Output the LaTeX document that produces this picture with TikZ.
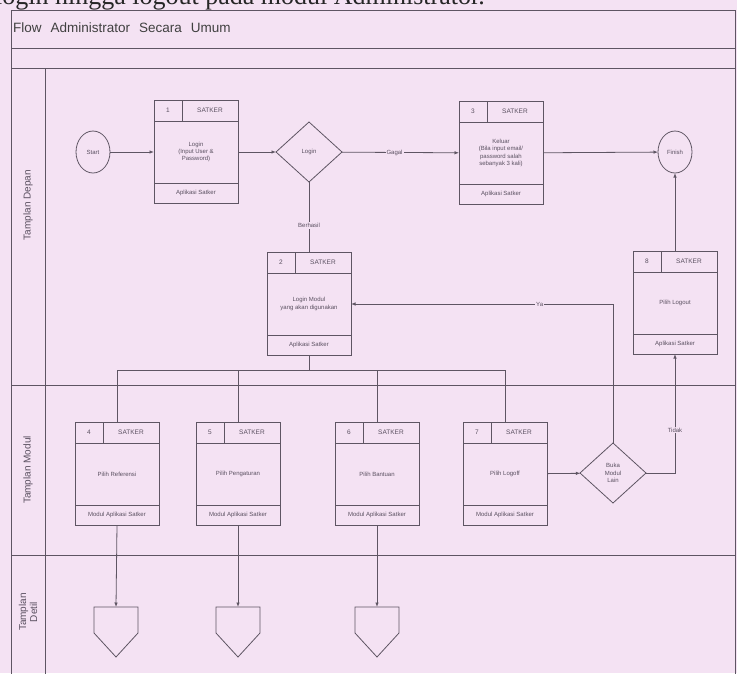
\documentclass[tikz,border=0pt]{standalone}
\usepackage{fontspec}
\setmainfont{Liberation Sans}
\newfontfamily\captionserif{Liberation Serif}
\usetikzlibrary{shapes.geometric,arrows.meta}
\definecolor{paper}{HTML}{F4E2F3}
\definecolor{ink}{HTML}{5E5563}
\definecolor{txt}{HTML}{5A5060}

% one activity card: name, x, y of body centre, number, body text, footer text
\newcommand\card[6]{%
  \node[cardbody] (#1) at (#2,#3) {#5};
  \node[numcell, anchor=south west] (#1n) at (#1.north west) {#4};
  \node[rolecell, anchor=south east] (#1r) at (#1.north east) {SATKER};
  \node[footcell, anchor=north] (#1f) at (#1.south) {#6};
  \coordinate (#1t) at ([yshift=21pt]#1.north);
}

\begin{document}
\begin{tikzpicture}[x=1pt,y=-1pt,
  line/.style={draw=ink, line width=0.8pt},
  flow/.style={line, -{Latex[length=4.5pt,width=3.5pt]}},
  cardbody/.style={draw=ink, line width=0.8pt, minimum width=84pt, minimum height=62pt,
    inner sep=1pt, align=center, font=\fontsize{6}{7.3}\selectfont, text=txt, outer sep=0pt},
  numcell/.style={draw=ink, line width=0.8pt, minimum width=28pt, minimum height=21pt,
    inner sep=0pt, font=\fontsize{6.5}{7}\selectfont, text=txt, outer sep=0pt},
  rolecell/.style={numcell, minimum width=56pt},
  footcell/.style={numcell, minimum width=84pt, minimum height=20pt, font=\fontsize{6}{7}\selectfont},
  terminal/.style={draw=ink, line width=0.8pt, ellipse, minimum width=34pt, minimum height=42pt,
    inner sep=0pt, font=\fontsize{6}{7}\selectfont, text=txt, outer sep=0pt},
  decision/.style={draw=ink, line width=0.8pt, diamond, minimum width=66pt, minimum height=60pt,
    inner sep=0pt, align=center, font=\fontsize{6}{7.3}\selectfont, text=txt, outer sep=0pt},
  lbl/.style={fill=paper, inner sep=1pt, font=\fontsize{6}{7}\selectfont, text=txt},
  lanelbl/.style={rotate=90, align=center, font=\fontsize{10}{11}\selectfont, text=txt},
]
\fill[paper] (0,0) rectangle (737,673);
\clip (0,0) rectangle (737,673);

% running text above the chart (only its lower edge lies on the page)
\node[anchor=base west, inner sep=0pt, font=\captionserif\fontsize{26}{28}\selectfont, text=black!85]
  (caption) at (-5,4) {login hingga logout pada modul Administrator.};

% pool frame, title row and lanes
\draw[line] (11,10) rectangle (735,700);
\draw[line] (11,48) -- (735,48);
\draw[line] (11,68) -- (735,68);
\draw[line] (45,68) -- (45,700);
\draw[line] (11,385) -- (735,385);
\draw[line] (11,555) -- (735,555);
\node[anchor=west, inner sep=0pt, font=\fontsize{13.5}{15}\selectfont, text=black!75]
  (title) at (13,28) {Flow\hspace{9pt}Administrator\hspace{9pt}Secara\hspace{9pt}Umum};
\node[lanelbl] (laneA) at (28,205) {Tamplan Depan};
\node[lanelbl] (laneB) at (28,470) {Tamplan Modul};
\node[lanelbl] (laneC) at (28,612) {Tamplan\\Detil};

% Tamplan Depan
\node[terminal] (start) at (93,152) {Start};
\card{b1}{196}{152}{1}{Login\\(Input User \&\\Password)}{Aplikasi Satker}
\node[decision] (login) at (309,152) {Login};
\card{b3}{501}{153}{3}{Keluar\\(Bila input email/\\password salah\\sebanyak 3 kali)}{Aplikasi Satker}
\node[terminal] (finish) at (675,152) {Finish};
\card{b2}{309}{304}{2}{Login Modul\\yang akan digunakan}{Aplikasi Satker}
\card{b8}{675}{303}{8}{Pilih Logout}{Aplikasi Satker}

% Tamplan Modul
\card{b4}{117}{474}{4}{Pilih Referensi}{Modul Aplikasi Satker}
\card{b5}{238}{474}{5}{Pilih Pengaturan}{Modul Aplikasi Satker}
\card{b6}{377}{474}{6}{Pilih Bantuan}{Modul Aplikasi Satker}
\card{b7}{505}{474}{7}{Pilih Logoff}{Modul Aplikasi Satker}
\node[decision] (buka) at (613,473) {Buka\\Modul\\Lain};

% Tamplan Detil: off-page references
\coordinate (d4) at (116,607);
\coordinate (d5) at (238,607);
\coordinate (d6) at (377,607);
\foreach \d in {d4,d5,d6}
  \draw[line, fill=paper] (\d) ++(-22,0) -- ++(44,0) -- ++(0,26) -- ++(-22,24) -- ++(-22,-24) -- cycle;

% connectors
\draw[flow] (start) -- (b1);
\draw[flow] (b1) -- (login);
\draw[flow] (login) -- node[lbl, pos=0.45] {Gagal} (b3);
\draw[flow] (b3) -- (finish);
\draw[line] (login) -- node[lbl, pos=0.62] {Berhasil} (b2t);
\draw[flow] (b8t) -- (finish);
\draw[flow] (buka.north) |- node[lbl, pos=0.64] {Ya} (b2.east);
\draw[flow] (b7) -- (buka);
\draw[flow] (buka.east) -| node[lbl, pos=0.68] {Tidak} (b8f.south);

\coordinate (bus2) at (309,370);
\coordinate (bus4) at (117,370);
\coordinate (bus5) at (238,370);
\coordinate (bus6) at (377,370);
\coordinate (bus7) at (505,370);
\draw[line] (b2f.south) -- (bus2);
\draw[line] (bus4) -- (bus7);
\draw[line] (bus4) -- (b4t);
\draw[line] (bus5) -- (b5t);
\draw[line] (bus6) -- (b6t);
\draw[line] (bus7) -- (b7t);
\draw[flow] (b4f.south) -- (d4);
\draw[flow] (b5f.south) -- (d5);
\draw[flow] (b6f.south) -- (d6);
\end{tikzpicture}
\end{document}
